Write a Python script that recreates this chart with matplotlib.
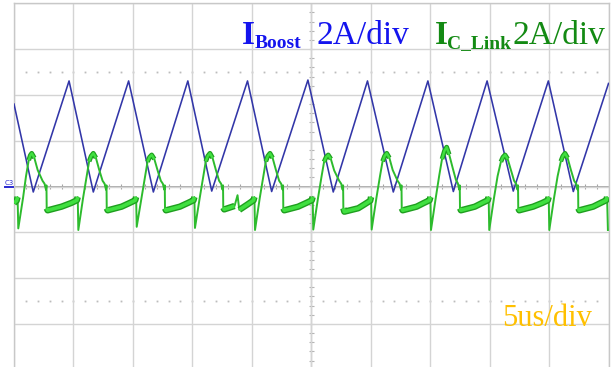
import matplotlib
matplotlib.use("Agg")
import matplotlib.pyplot as plt
from matplotlib.lines import Line2D
import numpy as np

# ---- data (time in us, current in A) ----
# I_Boost triangle vertices
ib_t = [0.00, 1.62, 4.63, 6.67, 9.64, 11.72, 14.62, 16.63, 19.64, 21.67, 24.72,
        26.85, 29.73, 31.90, 34.81, 36.95, 39.79, 41.99, 44.94, 47.04, 50.00]
ib_a = [3.60, -0.24, 4.61, -0.24, 4.61, -0.24, 4.61, -0.20, 4.61, -0.22, 4.65,
        -0.24, 4.61, -0.24, 4.61, -0.22, 4.61, -0.20, 4.61, -0.22, 4.50]

# I_C_Link trace vertices
ic_t = [0.00, 0.22, 0.30,
        0.36, 0.76, 1.01, 1.24, 1.37, 1.49, 1.71, 1.99, 2.40, 2.57, 2.69, 2.73, 2.75, 2.83, 4.00, 4.81, 5.29, 5.36,
        5.41, 5.81, 6.11, 6.32, 6.49, 6.67, 6.89, 7.17, 7.45, 7.62, 7.74, 7.78, 7.80, 7.88, 9.05, 9.72, 10.20, 10.27,
        10.32, 10.72, 11.02, 11.23, 11.40, 11.58, 11.80, 12.08, 12.35, 12.52, 12.64, 12.68, 12.70, 12.78, 13.95, 14.62, 15.10, 15.17,
        15.22, 15.62, 15.92, 16.13, 16.30, 16.48, 16.70, 16.98, 17.25, 17.42, 17.54, 17.58, 17.60, 17.68, 18.55, 18.80, 18.95, 19.65, 20.15, 20.22,
        20.27, 20.67, 20.97, 21.18, 21.35, 21.53, 21.75, 22.03, 22.30, 22.47, 22.59, 22.63, 22.65, 22.73, 23.90, 24.57, 25.05, 25.12,
        25.17, 25.57, 25.87, 26.08, 26.25, 26.43, 26.65, 26.93, 27.35, 27.52, 27.64, 27.68, 27.70, 27.78, 28.95, 29.48, 29.96, 30.03,
        30.08, 30.48, 30.78, 31.00, 31.17, 31.35, 31.57, 31.85, 32.26, 32.43, 32.55, 32.59, 32.61, 32.69, 33.86, 34.47, 34.95, 35.02,
        35.07, 35.47, 35.77, 36.00, 36.20, 36.39, 36.60, 36.90, 37.16, 37.33, 37.45, 37.49, 37.51, 37.59, 38.76, 39.37, 39.85, 39.92,
        39.97, 40.37, 40.67, 40.95, 41.12, 41.30, 41.52, 41.80, 42.06, 42.23, 42.35, 42.39, 42.41, 42.49, 43.66, 44.42, 44.90, 44.97,
        45.02, 45.42, 45.72, 45.99, 46.16, 46.34, 46.56, 46.84, 47.11, 47.28, 47.40, 47.44, 47.46, 47.54, 48.71, 49.33, 49.81, 49.88,
        49.95]
ic_a = [-0.72, -0.62, -0.46,
        -1.83, -0.50, 0.45, 1.15, 1.36, 1.45, 1.25, 0.72, 0.25, 0.12, -0.14, 0.05, -0.95, -1.04, -0.88, -0.72, -0.60, -0.46,
        -1.90, -0.50, 0.45, 1.10, 1.33, 1.45, 1.25, 0.72, 0.25, 0.12, -0.14, 0.05, -0.95, -1.04, -0.88, -0.72, -0.60, -0.46,
        -1.76, -0.50, 0.45, 1.08, 1.28, 1.38, 1.20, 0.70, 0.25, 0.12, -0.14, 0.05, -0.95, -1.04, -0.88, -0.72, -0.60, -0.46,
        -1.81, -0.50, 0.45, 1.10, 1.33, 1.45, 1.25, 0.72, 0.25, 0.12, -0.14, 0.05, -0.92, -1.00, -0.85, -0.38, -1.02, -0.78, -0.60, -0.46,
        -1.90, -0.50, 0.45, 1.10, 1.33, 1.45, 1.25, 0.72, 0.25, 0.12, -0.14, 0.05, -0.95, -1.04, -0.88, -0.72, -0.60, -0.46,
        -1.88, -0.50, 0.45, 1.08, 1.28, 1.38, 1.20, 0.70, 0.25, 0.12, -0.14, 0.05, -0.95, -1.10, -0.95, -0.78, -0.62, -0.46,
        -1.88, -0.50, 0.45, 1.10, 1.33, 1.45, 1.25, 0.72, 0.25, 0.12, -0.14, 0.05, -0.95, -1.04, -0.88, -0.72, -0.60, -0.46,
        -1.90, -0.50, 0.50, 1.20, 1.55, 1.72, 1.40, 0.80, 0.30, 0.14, -0.14, 0.05, -0.95, -1.04, -0.88, -0.72, -0.60, -0.46,
        -1.90, -0.50, 0.45, 1.08, 1.28, 1.38, 1.20, 0.70, 0.25, 0.12, -0.14, 0.05, -0.95, -1.04, -0.88, -0.72, -0.60, -0.46,
        -1.90, -0.50, 0.45, 1.10, 1.33, 1.45, 1.25, 0.72, 0.25, 0.12, -0.14, 0.05, -0.95, -1.04, -0.88, -0.72, -0.60, -0.46,
        -1.90]

x_divs = [0, 5, 10, 15, 20, 25, 30, 35, 40, 45, 50]      # 5 us/div
y_divs = [-8, -6, -4, -2, 0, 2, 4, 6, 8]                  # 2 A/div

BLUE_TRACE = "#3236a8"
GREEN_THIN = "#2dbb2d"
GREEN_DARK = "#1f9f1f"
GREEN_LIGHT = "#40e040"
BLUE_TEXT = "#1414ee"
GREEN_TEXT = "#138a13"
GOLD_TEXT = "#ffc000"

W, H = 611, 367
fig = plt.figure(figsize=(W / 100, H / 100), dpi=100)
ax = fig.add_axes([14 / W, 1 - 369.7 / H, 594.5 / W, 366.4 / H])
ax.set_xlim(0, 50)
ax.set_ylim(-8, 8)
ax.set_xticks(x_divs)
ax.set_yticks(y_divs)
ax.grid(True, color="#d4d4d4", lw=1.0, zorder=0)
ax.tick_params(length=0, labelbottom=False, labelleft=False)
for s in ax.spines.values():
    s.set_color("#c8c8c8")
    s.set_linewidth(1.0)

# centre graticule lines with minor ticks
ax.axhline(0, color="#a4a4a4", lw=1.3, zorder=1)
ax.vlines(np.arange(1, 50), -0.13, 0.13, color="#a4a4a4", lw=0.8, zorder=1)
ax.axvline(25, color="#c4c4c4", lw=1.0, zorder=1)
ax.hlines(np.arange(-7.6, 7.7, 0.4), 24.8, 25.2, color="#b4b4b4", lw=0.8, zorder=1)
# dotted rows
for yy in (5, -5):
    ax.plot(np.arange(1, 50), np.full(49, yy), ls="none", marker="s", ms=1.3,
            mec="none", color="#bcbcbc", zorder=1)

# traces
ax.plot(ib_t, ib_a, color=BLUE_TRACE, lw=1.15, zorder=3)
ic_t_arr = np.array(ic_t)
ic_a_arr = np.array(ic_a)
ax.plot(ic_t_arr, ic_a_arr, color=GREEN_THIN, lw=1.4, zorder=4)


def runs(mask):
    idx = np.where(mask)[0]
    if len(idx) == 0:
        return []
    out, start = [], idx[0]
    for a, b in zip(idx[:-1], idx[1:]):
        if b != a + 1:
            out.append((start, a))
            start = b
    out.append((start, idx[-1]))
    return out


band = (ic_a_arr > -1.5) & (ic_a_arr < -0.4)
for s0, s1 in runs(band):
    ax.plot(ic_t_arr[s0:s1 + 1], ic_a_arr[s0:s1 + 1], color=GREEN_DARK, lw=4.6,
            solid_capstyle="butt", zorder=5)
    ax.plot(ic_t_arr[s0:s1 + 1], ic_a_arr[s0:s1 + 1], color=GREEN_LIGHT, lw=2.6,
            solid_capstyle="butt", zorder=6)
top = ic_a_arr > 1.0
for s0, s1 in runs(top):
    ax.plot(ic_t_arr[s0:s1 + 1], ic_a_arr[s0:s1 + 1], color=GREEN_DARK, lw=3.4,
            solid_capstyle="butt", zorder=5)
    ax.plot(ic_t_arr[s0:s1 + 1], ic_a_arr[s0:s1 + 1], color=GREEN_LIGHT, lw=1.7,
            solid_capstyle="butt", zorder=6)

# channel marker
fig.text(5 / W, 1 - 184.5 / H, "C3", fontsize=5, color="#2a2ad0",
         family="DejaVu Sans", va="baseline", ha="left")
fig.add_artist(Line2D([5 / W, 13 / W], [1 - 187.3 / H, 1 - 187.3 / H],
                      color="#2a2ad0", lw=1.4))


def ftxt(x, y, s, **kw):
    fig.text(x / W, 1 - y / H, s, va="baseline", family="Liberation Serif", **kw)


ftxt(241.5, 44.3, "I", size=24, weight="bold", color=BLUE_TEXT, ha="left")
ftxt(254.5, 47.7, "Boost", size=14, weight="bold", color=BLUE_TEXT, ha="left")
ftxt(363.3, 44.3, "2A/div", size=24, color=BLUE_TEXT, ha="center")
ftxt(434.5, 44.3, "I", size=24, weight="bold", color=GREEN_TEXT, ha="left")
ftxt(447.5, 47.7, "C_Link", size=14, weight="bold", color=GREEN_TEXT, ha="left")
ftxt(559, 44.3, "2A/div", size=24, color=GREEN_TEXT, ha="center")
ftxt(546.6, 326.5, "5us/div", size=22, color=GOLD_TEXT, ha="center")

fig.savefig("out.png", dpi=100)
